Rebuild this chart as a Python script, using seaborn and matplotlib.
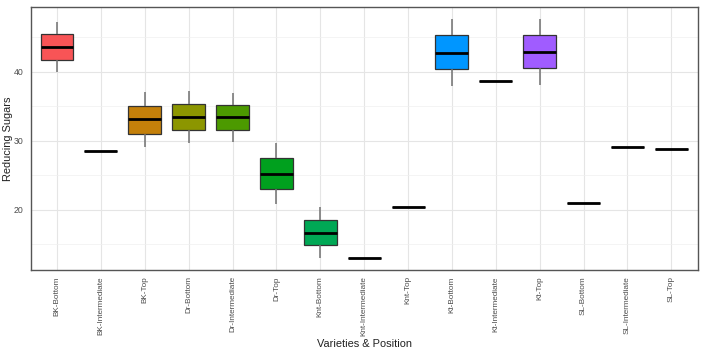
import matplotlib
matplotlib.use("Agg")
import matplotlib.pyplot as plt
import numpy as np
import pandas as pd
import seaborn as sns

# five-number summaries (low whisker, Q1, median, Q3, high whisker)
categories = ["BK-Bottom", "BK-Intermediate", "BK-Top", "Dr-Bottom", "Dr-Intermediate",
              "Dr-Top", "Knt-Bottom", "Knt-Intermediate", "Knt-Top", "Kt-Bottom",
              "Kt-Intermediate", "Kt-Top", "SL-Bottom", "SL-Intermediate", "SL-Top"]
whisker_low = [40.0, 28.6, 29.1, 29.7, 29.85, 20.9, 13.0, 13.05, 20.4, 37.9, 38.75, 38.15, 20.95, 29.15, 28.85]
q1 = [41.75, 28.6, 31.05, 31.6, 31.6, 23.05, 14.85, 13.05, 20.4, 40.4, 38.75, 40.5, 20.95, 29.15, 28.85]
median = [43.6, 28.6, 33.1, 33.5, 33.45, 25.25, 16.7, 13.05, 20.4, 42.8, 38.75, 42.9, 20.95, 29.15, 28.85]
q3 = [45.45, 28.6, 35.1, 35.4, 35.25, 27.45, 18.55, 13.05, 20.4, 45.3, 38.75, 45.4, 20.95, 29.15, 28.85]
whisker_high = [47.3, 28.6, 37.1, 37.3, 37.0, 29.7, 20.4, 13.05, 20.4, 47.7, 38.75, 47.7, 20.95, 29.15, 28.85]

box_colors = ["#F85456", "#D66B4E", "#C4800A", "#8C9600", "#4C9A00",
              "#00A01E", "#00A855", "#00AB88", "#00A9B8", "#0096FF",
              "#6E7BFF", "#A05CFF", "#D45CE0", "#F060B0", "#FA6A80"]

rows = []
for i, cat in enumerate(categories):
    for v in [whisker_low[i], q1[i], median[i], q3[i], whisker_high[i]]:
        rows.append({"group": cat, "value": v})
df = pd.DataFrame(rows)

sns.set_style("whitegrid")
plt.rcParams['font.family'] = ['Liberation Sans', 'DejaVu Sans']

fig, ax = plt.subplots(figsize=(7.04, 3.53), dpi=100)
fig.subplots_adjust(left=0.0436, right=0.991, top=0.980, bottom=0.235)

sns.boxplot(data=df, x="group", y="value", hue="group", order=categories,
            palette=dict(zip(categories, box_colors)), legend=False,
            width=0.75, saturation=1, linewidth=0.9, linecolor="#333333",
            showfliers=False, showcaps=False, whis=10,
            medianprops={"color": "black", "linewidth": 2},
            whiskerprops={"color": "#707070", "linewidth": 1.1},
            ax=ax)

ax.set_ylim(11.26, 49.41)
ax.set_xlim(-0.6, len(categories) - 0.4)
ax.set_yticks([20, 30, 40])
ax.set_yticks([15, 25, 35, 45], minor=True)

ax.grid(True, which="major", color="#E5E5E5", linewidth=0.8)
ax.grid(True, which="minor", axis="y", color="#F0F0F0", linewidth=0.5)
ax.set_axisbelow(True)

for s in ax.spines.values():
    s.set_color("#555555")
    s.set_linewidth(1)
    s.set_visible(True)

ax.tick_params(axis="both", which="major", length=3, width=0.8, color="#333333",
               labelsize=6.3, labelcolor="#4D4D4D", pad=2)
ax.tick_params(axis="x", labelsize=5.9, pad=1.5)
ax.tick_params(axis="y", which="minor", length=0)
plt.setp(ax.get_xticklabels(), rotation=90, ha="center", va="top")

ax.set_xlabel("Varieties & Position", fontsize=7.9, color="#222222")
ax.set_ylabel("Reducing Sugars", fontsize=7.9, color="#222222")
ax.xaxis.set_label_coords(0.5, -0.28)
ax.xaxis.label.set_va("center")
ax.yaxis.set_label_coords(-0.034, 0.5)
ax.yaxis.label.set_va("center")

fig.savefig("out.png", dpi=100)
